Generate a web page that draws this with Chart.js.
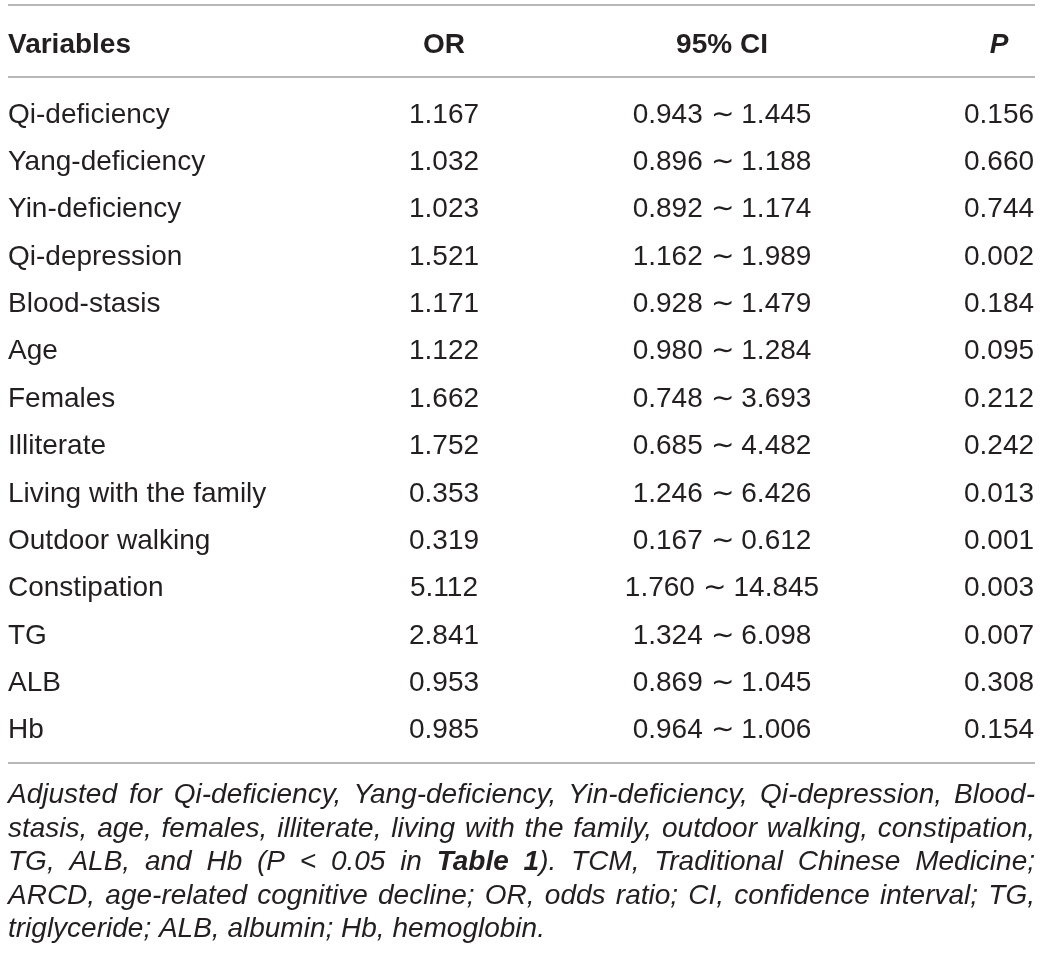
<!DOCTYPE html>
<html><head><meta charset="utf-8">
<script src="https://cdn.jsdelivr.net/npm/chart.js@4.4.1/dist/chart.umd.min.js"></script>
<style>html,body{margin:0;padding:0;background:#fff;overflow:hidden;} canvas{display:block;}</style>
</head><body>
<canvas id="c" width="1042" height="961"></canvas>
<script>
const variables = ['Qi-deficiency','Yang-deficiency','Yin-deficiency','Qi-depression','Blood-stasis','Age','Females','Illiterate','Living with the family','Outdoor walking','Constipation','TG','ALB','Hb'];
const orValues = [1.167,1.032,1.023,1.521,1.171,1.122,1.662,1.752,0.353,0.319,5.112,2.841,0.953,0.985];
const ciLow = [0.943,0.896,0.892,1.162,0.928,0.980,0.748,0.685,1.246,0.167,1.760,1.324,0.869,0.964];
const ciHigh = [1.445,1.188,1.174,1.989,1.479,1.284,3.693,4.482,6.426,0.612,14.845,6.098,1.045,1.006];
const pValues = [0.156,0.660,0.744,0.002,0.184,0.095,0.212,0.242,0.013,0.001,0.003,0.007,0.308,0.154];
const columnHeaders = ['Variables','OR','95% CI','P'];
const footnoteLines = [
  'Adjusted for Qi-deficiency, Yang-deficiency, Yin-deficiency, Qi-depression, Blood-',
  'stasis, age, females, illiterate, living with the family, outdoor walking, constipation,',
  'TG, ALB, and Hb (P < 0.05 in **Table 1**). TCM, Traditional Chinese Medicine;',
  'ARCD, age-related cognitive decline; OR, odds ratio; CI, confidence interval; TG,',
  'triglyceride; ALB, albumin; Hb, hemoglobin.'
];

const FONT = '"Liberation Sans", Arial, Helvetica, sans-serif';
const TEXT = '#231f20';
const RULE = '#a0a0a0';
const LEFT = 8, RIGHT = 1035;
const colX = [LEFT, 444, 722, 999];

function parseWords(line){
  const words = []; let bold = false; let cur = []; let buf = '';
  const flush = () => { if (buf) { cur.push({t: buf, b: bold}); buf=''; } };
  for (let i = 0; i < line.length; i++) {
    if (line[i] === '*' && line[i+1] === '*') { flush(); bold = !bold; i++; continue; }
    if (line[i] === ' ') { flush(); if (cur.length) words.push(cur); cur = []; continue; }
    buf += line[i];
  }
  flush(); if (cur.length) words.push(cur);
  return words;
}

const tablePlugin = {
  id: 'tablePlugin',
  afterDraw(chart){
    const ctx = chart.ctx, y = chart.scales.y, area = chart.chartArea;
    ctx.save();
    // rules
    ctx.strokeStyle = RULE; ctx.lineWidth = 1.6;
    [5, area.top - 12, area.bottom + 11].forEach(yy => {
      ctx.beginPath(); ctx.moveTo(LEFT, yy); ctx.lineTo(RIGHT, yy); ctx.stroke();
    });
    ctx.fillStyle = TEXT;
    ctx.textBaseline = 'alphabetic';
    // header
    const hy = area.top - 36;
    columnHeaders.forEach((h, j) => {
      ctx.font = (j === 3 ? 'italic ' : '') + 'bold 28px ' + FONT;
      ctx.textAlign = j === 0 ? 'left' : 'center';
      ctx.fillText(h, colX[j], hy);
    });
    // rows
    ctx.font = '28px ' + FONT;
    variables.forEach((v, i) => {
      const py = y.getPixelForValue(i) + 10;
      ctx.textAlign = 'left';
      ctx.fillText(v, colX[0], py);
      ctx.textAlign = 'center';
      ctx.fillText(orValues[i].toFixed(3), colX[1], py);
      ctx.fillText(ciLow[i].toFixed(3) + ' \u223C ' + ciHigh[i].toFixed(3), colX[2], py);
      ctx.fillText(pValues[i].toFixed(3), colX[3], py);
    });
    // footnote
    ctx.textAlign = 'left';
    const fontFor = b => 'italic ' + (b ? 'bold ' : '') + '28px ' + FONT;
    footnoteLines.forEach((line, k) => {
      const by = area.bottom + 51 + k * 33.6;
      const words = parseWords(line);
      const widths = words.map(w => w.reduce((s, r) => { ctx.font = fontFor(r.b); return s + ctx.measureText(r.t).width; }, 0));
      const total = widths.reduce((a, b) => a + b, 0);
      ctx.font = fontFor(false);
      let gap = ctx.measureText(' ').width;
      if (k < footnoteLines.length - 1 && words.length > 1) gap = (RIGHT - LEFT - total) / (words.length - 1);
      let x = LEFT;
      words.forEach((w, wi) => {
        w.forEach(r => { ctx.font = fontFor(r.b); ctx.fillText(r.t, x, by); x += ctx.measureText(r.t).width; });
        x += gap;
      });
    });
    ctx.restore();
  }
};

new Chart(document.getElementById('c'), {
  type: 'line',
  data: {
    labels: variables,
    datasets: [{ data: orValues, showLine: false, pointRadius: 0, borderWidth: 0 }]
  },
  options: {
    indexAxis: 'y',
    responsive: false,
    animation: false,
    devicePixelRatio: 1,
    layout: { padding: { top: 89, bottom: 209, left: 0, right: 0 } },
    plugins: { legend: { display: false }, tooltip: { enabled: false } },
    scales: {
      y: { type: 'category', offset: true, display: false },
      x: { type: 'linear', display: false }
    }
  },
  plugins: [tablePlugin]
});
</script>
</body></html>
